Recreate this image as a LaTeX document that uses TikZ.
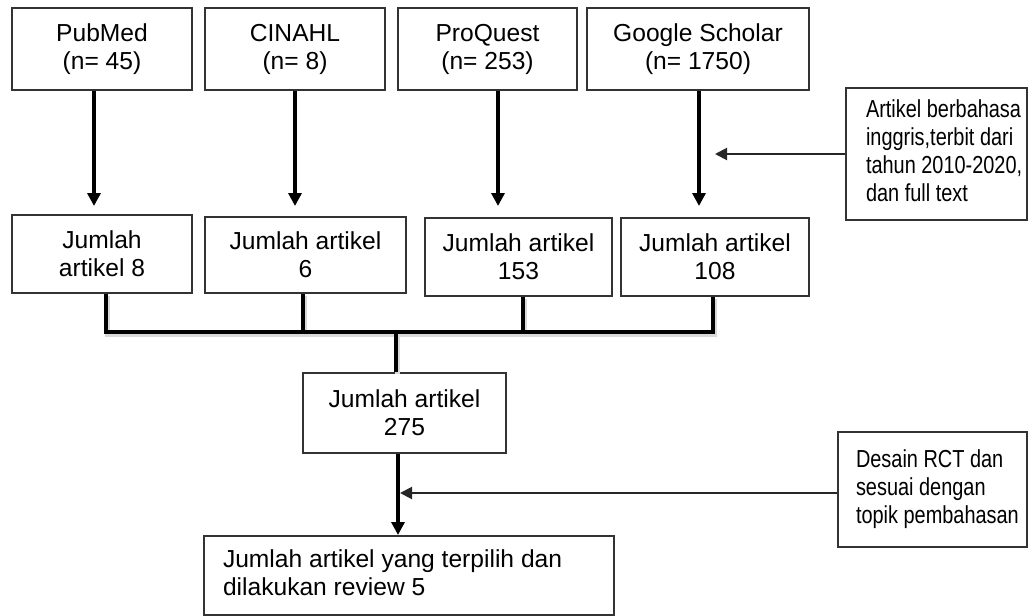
\documentclass[tikz,border=0pt]{standalone}
\usepackage{fontspec}
\setmainfont{Liberation Sans}
\newfontfamily\narrowfont{Liberation Sans}[FakeStretch=0.81]
\usetikzlibrary{arrows.meta}
\begin{document}
\begin{tikzpicture}[x=0.5pt,y=-0.5pt,
  box/.style={draw=black!80, line width=1pt, inner sep=0pt, align=center,
    font=\fontsize{12.3}{14}\selectfont, text=black},
  sidebox/.style={draw=black!80, line width=1pt, inner sep=0pt,
    font=\narrowfont\fontsize{12.3}{14}\selectfont, text=black},
  arr/.style={line width=2pt, -{Triangle[length=6.5pt,width=6.5pt]}},
  sarr/.style={line width=1pt, black!85, -{Triangle[length=6pt,width=6pt]}},
  bus/.style={line width=2pt,
    preaction={draw=black!15, line width=2.5pt, transform canvas={xshift=0.8pt,yshift=-1pt}}}
]
\useasboundingbox (0,0) rectangle (1029,616);

% row 1
\node[box, minimum width=90pt,   minimum height=41pt] (pub) at (102,49)   {PubMed\\(n= 45)};
\node[box, minimum width=90pt,   minimum height=41pt] (cin) at (295,49)   {CINAHL\\(n= 8)};
\node[box, minimum width=89.5pt, minimum height=41pt] (pq)  at (487.5,49) {ProQuest\\(n= 253)};
\node[box, minimum width=111pt,  minimum height=41pt] (gs)  at (698,49)   {Google Scholar\\(n= 1750)};

% row 2
\node[box, minimum width=90pt,    minimum height=39pt] (pub2) at (102,254)   {Jumlah\\artikel 8};
\node[box, minimum width=100.5pt, minimum height=38pt] (cin2) at (305.5,255) {Jumlah artikel\\6};
\node[box, minimum width=93.5pt,  minimum height=39pt] (pq2)  at (518.5,257) {Jumlah artikel\\153};
\node[box, minimum width=94pt,    minimum height=39pt] (gs2)  at (715,257)   {Jumlah artikel\\108};

% total and final
\node[box, minimum width=101.5pt, minimum height=40pt] (tot) at (404.5,413) {Jumlah artikel\\275};
\node[box, minimum width=205pt, minimum height=39.5pt] (fin) at (409,575.5)
  {\makebox[205pt][l]{\hspace{9.5pt}\begin{tabular}{@{}l@{}}Jumlah artikel yang terpilih dan\\dilakukan review 5\end{tabular}}};

% side boxes
\node[sidebox, minimum width=90.5pt, minimum height=66pt] (f1) at (936.5,154)
  {\makebox[90.5pt][l]{\hspace{10pt}\begin{tabular}{@{}l@{}}Artikel berbahasa\\inggris,terbit dari\\tahun 2010-2020,\\dan full text\end{tabular}}};
\node[sidebox, minimum width=94.5pt, minimum height=57.5pt] (f2) at (932.5,489.5)
  {\makebox[94.5pt][l]{\hspace{9pt}\begin{tabular}{@{}l@{}}Desain RCT dan\\sesuai dengan\\topik pembahasan\end{tabular}}};

% arrows row 1 -> row 2
\draw[arr] ([xshift=-4pt]pub.south) -- ([xshift=-4pt,yshift=4pt]pub2.north);
\draw[arr] (cin.south) -- ([xshift=-5.25pt,yshift=5pt]cin2.north);
\draw[arr] ([xshift=5.25pt]pq.south) -- ([xshift=-10.25pt,yshift=5.5pt]pq2.north);
\draw[arr] ([xshift=0.5pt]gs.south) -- ([xshift=-8pt,yshift=5.5pt]gs2.north);

% bus (one path, so its shadow lies under all of it)
\coordinate (j) at (396,332);
\draw[bus] ([xshift=2pt]pub2.south) |- (j) -| ([xshift=-1pt]gs2.south)
           ([xshift=-1.25pt]cin2.south) |- (j)
           ([xshift=2.25pt]pq2.south) |- (j)
           (j) -- (j |- tot.north);

% main arrow
\draw[arr] ([xshift=-3.25pt]tot.south) -- ([xshift=-5.5pt]fin.north);

% side arrows
\draw[sarr] (f1.west) -- (gs2.north |- f1.west);
\coordinate (t2) at (400,493);
\draw[sarr] (f2.west |- t2) -- (t2);
\end{tikzpicture}
\end{document}
